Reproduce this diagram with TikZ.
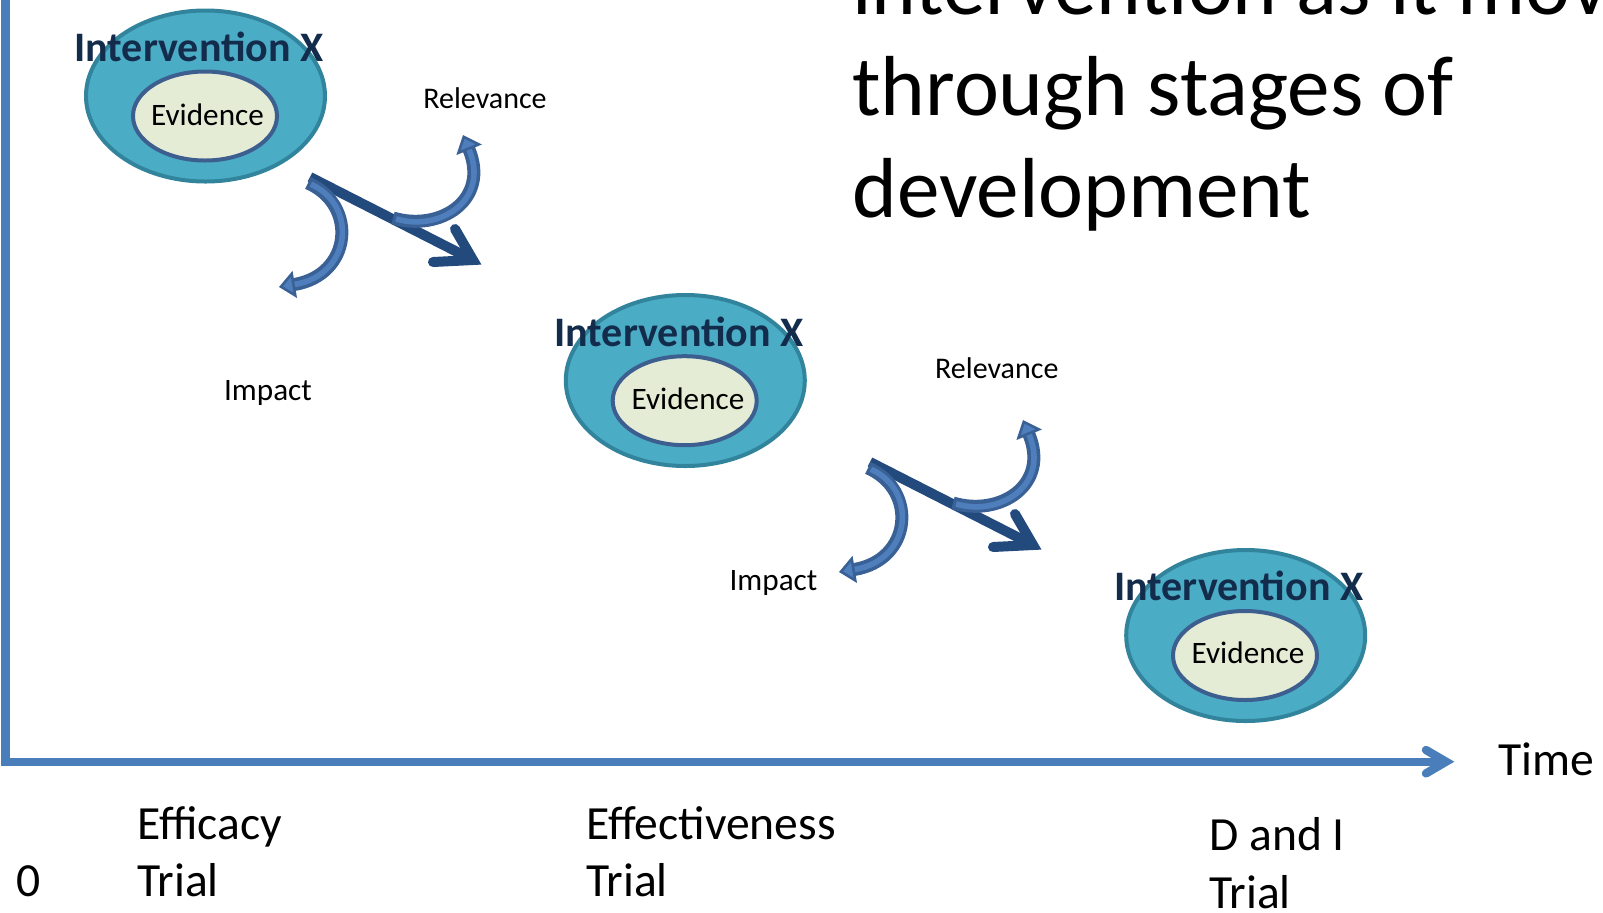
\documentclass[tikz,border=0pt]{standalone}
\usepackage{fontspec}
\setmainfont{Carlito}
\usetikzlibrary{arrows.meta,shapes.geometric}
\definecolor{axisblue}{HTML}{4A7EBB}
\definecolor{outerfill}{HTML}{4BACC6}
\definecolor{outerdraw}{HTML}{31849B}
\definecolor{innerfill}{HTML}{E4ECD5}
\definecolor{innerdraw}{HTML}{3D5F90}
\definecolor{navy}{HTML}{132C4C}
\definecolor{bigblue}{HTML}{224A7D}
\definecolor{cdark}{HTML}{3A6195}
\definecolor{clight}{HTML}{4E7FBC}
\begin{document}
\begin{tikzpicture}[x=0.5pt,y=-0.5pt,
  axisline/.style={draw=axisblue, line width=4.2pt},
  outerell/.style={ellipse, draw=outerdraw, fill=outerfill, line width=2pt, minimum width=119.5pt, minimum height=85.5pt, inner sep=0pt},
  innerell/.style={ellipse, draw=innerdraw, fill=innerfill, line width=2pt, minimum width=72pt, minimum height=44.5pt, inner sep=0pt},
  ivx/.style={font=\bfseries\fontsize{21}{25}\selectfont, text=navy, inner sep=0pt, anchor=base},
  evtext/.style={font=\fontsize{15.6}{19}\selectfont, inner sep=0pt, anchor=base},
  smalltext/.style={font=\fontsize{15}{18}\selectfont, inner sep=0pt, anchor=base},
  bigtext/.style={font=\fontsize{23.8}{28}\selectfont, inner sep=0pt, anchor=base west},
  titletext/.style={font=\fontsize{42.6}{51}\selectfont, inner sep=0pt, anchor=base west},
  bigarrow/.style={draw=bigblue, line width=5pt},
  curveout/.style={draw=cdark, line width=6.5pt, -{Triangle[length=8pt,width=13.5pt,fill=clight,line width=1.3pt]}},
  curvein/.style={draw=clight, line width=2.8pt, shorten >=8pt, shorten <=1.6pt}
]
\useasboundingbox (0,0) rectangle (1603,912);
\clip (0,0) rectangle (1603,912);

% axes
\coordinate (ytop) at (5.3,-10);
\coordinate (origin) at (5.3,761.7);
\coordinate (xend) at (1446,761.7);
\coordinate (xb1) at (1426,750);
\coordinate (xb2) at (1426,773.4);
\draw[axisline, line join=miter] (ytop) -- (origin) -- (xend);
\draw[axisline, line cap=round, line join=miter] (xb1) -- (xend) -- (xb2);
\node[bigtext] (time) at (1498,775) {Time};

% title (partly cut off, as in the reference)
\node[titletext] (ttl1) at (852,14) {intervention as it moves};
\node[titletext] (ttl2) at (852,115.7) {through stages of};
\node[titletext] (ttl3) at (852,217) {development};

% ellipses
\node[outerell] (o1) at (205.5,96) {};
\node[innerell] (i1) at (205,116) {};
\node[ivx] (t1) at (199,61.7) {Intervention X};
\node[evtext] (e1) at (207.5,125) {Evidence};

\node[outerell] (o2) at (685.3,380.5) {};
\node[innerell] (i2) at (684.7,400.7) {};
\node[ivx] (t2) at (679,346.7) {Intervention X};
\node[evtext] (e2) at (688,409.3) {Evidence};

\node[outerell] (o3) at (1245.7,635.5) {};
\node[innerell] (i3) at (1245,655.5) {};
\node[ivx] (t3) at (1238.7,600.7) {Intervention X};
\node[evtext] (e3) at (1248,663.3) {Evidence};

% arrow groups
\foreach \k/\dx/\dy in {1/0/0, 2/560/285} {
  \begin{scope}[shift={(\dx,\dy)}]
    \coordinate (bs\k) at (310,177);
    \coordinate (bt\k) at (473,260);
    \coordinate (bb\k) at (433,262);
    \coordinate (bc\k) at (455,229);
    \draw[bigarrow] (bs\k) -- (bt\k);
    \draw[bigarrow, line cap=round, line join=miter] (bb\k) -- (bt\k) -- (bc\k);
    \coordinate (is\k) at (308,183);
    \coordinate (ie\k) at (279,287);
    \draw[curveout] (is\k) .. controls +(50,22) and +(73,-12) .. (ie\k);
    \draw[curvein] (is\k) .. controls +(50,22) and +(73,-12) .. (ie\k);
    \coordinate (rs\k) at (393,218);
    \coordinate (re\k) at (463,135);
    \draw[curveout] (rs\k) .. controls +(47,14) and +(27,65) .. (re\k);
    \draw[curvein] (rs\k) .. controls +(47,14) and +(27,65) .. (re\k);
  \end{scope}
}

\node[smalltext] (rel1) at (485,108.3) {Relevance};
\node[smalltext, font=\fontsize{15.6}{18}\selectfont] (imp1) at (268,400.5) {Impact};
\node[smalltext] (rel2) at (996.8,378.3) {Relevance};
\node[smalltext, font=\fontsize{15.6}{18}\selectfont] (imp2) at (773.5,590) {Impact};

% stage labels
\node[bigtext] (zero) at (16,896.7) {0};
\node[bigtext] (eff1) at (137,839.3) {Efficacy};
\node[bigtext] (eff2) at (137,896.7) {Trial};
\node[bigtext] (effv1) at (586,839.3) {Effectiveness};
\node[bigtext] (effv2) at (586,896.7) {Trial};
\node[bigtext] (di1) at (1209,850) {D and I};
\node[bigtext] (di2) at (1209,908.3) {Trial};
\end{tikzpicture}
\end{document}
